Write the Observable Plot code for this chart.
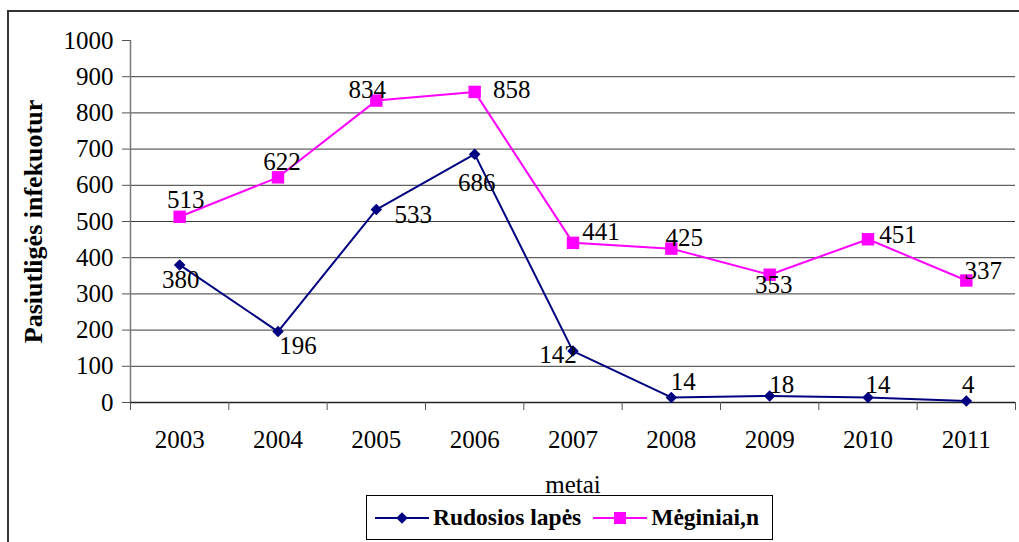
<!DOCTYPE html>
<html>
<head>
<meta charset="utf-8">
<script src="https://cdn.jsdelivr.net/npm/d3@7"></script>
<script src="https://cdn.jsdelivr.net/npm/@observablehq/plot@0.6"></script>
<style>
  html, body { margin: 0; padding: 0; background: #fff; }
  body { width: 1019px; height: 542px; overflow: hidden; position: relative; }
  #frame { position: absolute; left: 7px; top: 10px; width: 1200px; height: 700px; border-left: 2px solid #333; border-top: 2px solid #333; pointer-events: none; }
  #chart { position: absolute; left: 0; top: 0; }
  #legend { position: absolute; left: 366px; top: 495px; width: 407px; height: 45px; border: 1px solid #000; box-sizing: border-box; display: flex; align-items: center; background: #fff; }
  #legend .item { display: flex; align-items: center; color: #000; }
  #legend svg { display: block; margin-right: 4px; }
</style>
</head>
<body>
<div id="frame"></div>
<div id="chart" style="font-family: 'Liberation Serif'"></div>
<div id="legend" style="font-family: 'Liberation Serif'"></div>
<script>
// Yearly counts
const years = [2003, 2004, 2005, 2006, 2007, 2008, 2009, 2010, 2011];
const rudosiosLapes = [380, 196, 533, 686, 142, 14, 18, 14, 4];
const meginiai = [513, 622, 834, 858, 441, 425, 353, 451, 337];
const seriesNames = ["Rudosios lapės", "Mėginiai,n"];
const yTicks = [0, 100, 200, 300, 400, 500, 600, 700, 800, 900, 1000];
const gridValues = [100, 200, 300, 400, 500, 600, 700, 800, 900];
const yTitle = "Pasiutligės infekuotur";
const xTitle = "metai";

// Where each value label sits next to its marker (pixel nudge, [dx, dy])
const rudNudge = [[1, 15], [20, 14], [37, 5], [2, 29], [-15, 4], [12, -15], [12, -11], [10, -12], [2, -16]];
const megNudge = [[6, -17], [4, -15], [-9, -11], [37, -2], [28, -11], [13, -11], [4, 10], [30, -4], [17, -10]];

const navy = "#000080";
const magenta = "#ff00ff";
const fontName = "Liberation Serif";

const rud = years.map((year, i) => ({year, value: rudosiosLapes[i], nudge: rudNudge[i]}));
const meg = years.map((year, i) => ({year, value: meginiai[i], nudge: megNudge[i]}));

// Category boundaries (tick marks sit between the years)
const boundaries = years.map(y => y - 0.5).concat([years[years.length - 1] + 0.5]);

const valueLabels = (rows) => rows.map(d =>
  Plot.text([d], {x: "year", y: "value", text: d => String(d.value), dx: d.nudge[0], dy: d.nudge[1],
    fontSize: 25, fontFamily: fontName, fill: "#000", textAnchor: "middle", lineAnchor: "middle"}));

const chart = Plot.plot({
  width: 1019,
  height: 494,
  marginLeft: 130,
  marginRight: 4,
  marginTop: 40,
  marginBottom: 92,
  style: {fontFamily: "'Liberation Serif'", fontSize: "25px", color: "#000", background: "transparent", overflow: "visible"},
  x: {domain: [boundaries[0], boundaries[boundaries.length - 1]]},
  y: {domain: [0, 1000]},
  marks: [
    Plot.ruleY(gridValues, {stroke: "#3a3a3a", strokeWidth: 1}),
    Plot.ruleX([boundaries[0]], {y1: 0, y2: 1000, stroke: "#777", strokeWidth: 1.5}),
    Plot.ruleY([0], {stroke: "#222", strokeWidth: 1.5}),
    Plot.axisY({ticks: yTicks, tickSize: 8, tickPadding: 9, fontSize: 25, fontFamily: fontName, stroke: "#555", label: null, tickFormat: d => String(d)}),
    Plot.axisX({ticks: boundaries, tickSize: 8, tickFormat: () => "", stroke: "#555", label: null}),
    Plot.axisX({ticks: years, tickSize: 0, tickPadding: 28, fontSize: 25, fontFamily: fontName, tickFormat: d => String(d), label: null}),
    Plot.text([yTitle], {frameAnchor: "left", dx: -97, rotate: -90, textAnchor: "middle", lineAnchor: "middle", fontWeight: "bold", fontSize: 26, fontFamily: fontName}),
    Plot.text([xTitle], {frameAnchor: "bottom", dy: 82, textAnchor: "middle", lineAnchor: "middle", fontSize: 25, fontFamily: fontName}),
    Plot.line(meg, {x: "year", y: "value", stroke: magenta, strokeWidth: 2}),
    Plot.line(rud, {x: "year", y: "value", stroke: navy, strokeWidth: 2}),
    Plot.dot(meg, {x: "year", y: "value", symbol: "square", r: 7, fill: magenta, stroke: "none"}),
    Plot.dot(rud, {x: "year", y: "value", symbol: "diamond2", r: 5.2, fill: navy, stroke: "none"}),
    ...valueLabels(rud),
    ...valueLabels(meg)
  ]
});
chart.querySelectorAll("text").forEach(t => t.style.fontFamily = "'Liberation Serif'");
document.getElementById("chart").appendChild(chart);

// Legend: line-and-marker swatch followed by the series name
const legend = d3.select("#legend");
const swatches = [
  {name: seriesNames[0], color: navy, shape: "diamond"},
  {name: seriesNames[1], color: magenta, shape: "square"}
];
swatches.forEach((s, i) => {
  const item = legend.append("div").attr("class", "item").style("margin-left", i === 0 ? "8px" : "12px");
  const svg = item.append("svg").attr("width", 54).attr("height", 20);
  svg.append("line").attr("x1", 0).attr("x2", 54).attr("y1", 10).attr("y2", 10).attr("stroke", s.color).attr("stroke-width", 2);
  if (s.shape === "diamond") {
    svg.append("path").attr("d", d3.symbol(d3.symbolDiamond2, 85)()).attr("transform", "translate(27,10)").attr("fill", s.color);
  } else {
    svg.append("rect").attr("x", 21).attr("y", 4).attr("width", 12).attr("height", 12).attr("fill", s.color);
  }
  item.append("span").text(s.name)
    .style("font-family", "'Liberation Serif'")
    .style("font-weight", "bold")
    .style("font-size", "23.5px");
});
</script>
</body>
</html>
